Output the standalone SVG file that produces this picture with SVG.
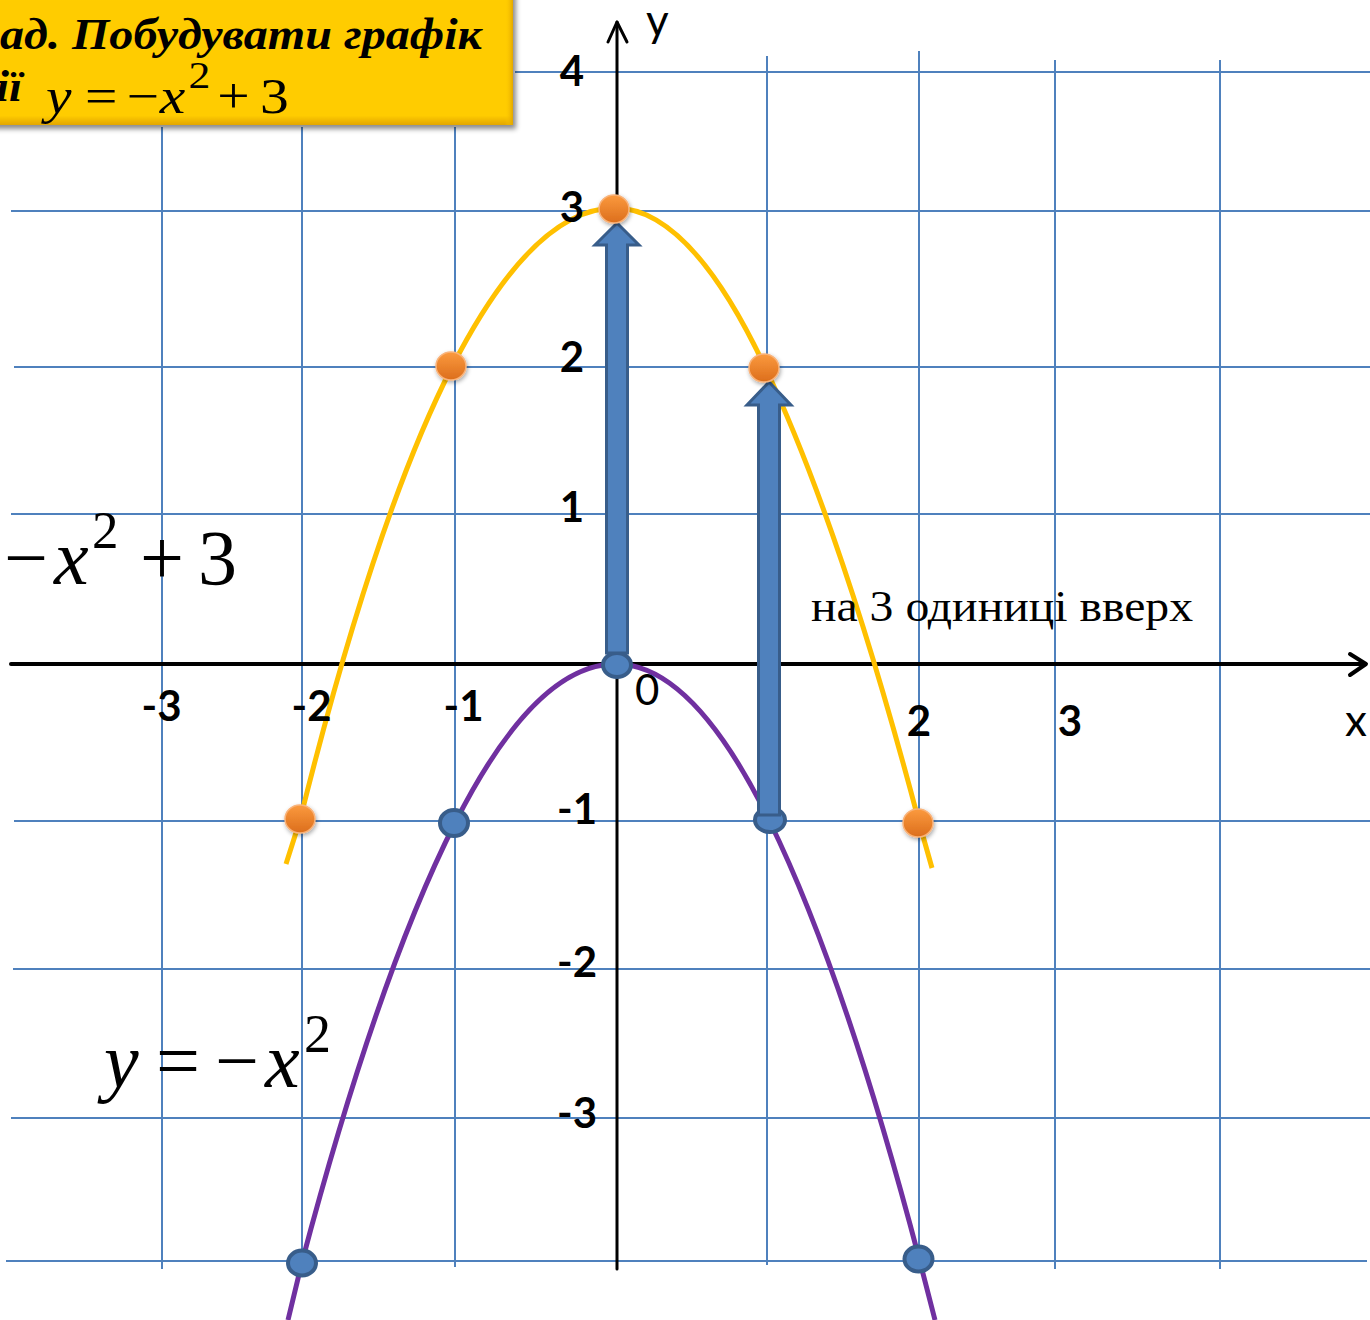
<svg xmlns="http://www.w3.org/2000/svg" width="1370" height="1320" viewBox="0 0 1370 1320">
<defs>
<style>
.grid{stroke:#4F81BD;stroke-width:2;fill:none}
.axis{stroke:#000;fill:none;stroke-linecap:round;stroke-linejoin:round}
.lbl{font-family:Lato,"Liberation Sans",sans-serif;font-weight:bold;font-size:42px;fill:#000}
.lblr{font-family:Lato,"Liberation Sans",sans-serif;fill:#000}
.math{font-family:"Liberation Serif","Times New Roman",serif;fill:#000}
.it{font-style:italic}
.title{font-family:"Liberation Serif","Times New Roman",serif;font-weight:bold;font-style:italic;font-size:44px;fill:#000}
.odot{fill:url(#og);stroke:#F9B37A;stroke-width:1.5;filter:url(#sh)}
.bdot{fill:#4F81BD;stroke:#385D8A;stroke-width:4}
.arrow{fill:#4F81BD;stroke:#385D8A;stroke-width:3;stroke-linejoin:miter}
.tail{fill:#4F81BD;stroke:#385D8A;stroke-width:4}
.curveO{fill:none;stroke:#FFC000;stroke-width:5}
.curveP{fill:none;stroke:#7030A0;stroke-width:5}
</style>
<linearGradient id="og" x1="0" y1="0" x2="0" y2="1"><stop offset="0" stop-color="#FB9A3E"/><stop offset="1" stop-color="#DC6E1C"/></linearGradient>
<linearGradient id="yg" x1="0" y1="0" x2="0" y2="1"><stop offset="0" stop-color="#FFE066"/><stop offset="0.08" stop-color="#FFCC00"/><stop offset="0.93" stop-color="#FFCC00"/><stop offset="1" stop-color="#E2A600"/></linearGradient>
<linearGradient id="yr" x1="0" y1="0" x2="1" y2="0"><stop offset="0" stop-color="#FFCC00" stop-opacity="0"/><stop offset="1" stop-color="#E2A600"/></linearGradient>
<filter id="sh" x="-50%" y="-50%" width="200%" height="200%"><feDropShadow dx="1" dy="2" stdDeviation="2" flood-color="#000" flood-opacity="0.35"/></filter>
<filter id="bsh" x="-10%" y="-20%" width="120%" height="140%"><feDropShadow dx="3" dy="4" stdDeviation="2.5" flood-color="#000" flood-opacity="0.45"/></filter>
</defs>

<g id="grid">
<line class="grid" x1="515" y1="72" x2="1370" y2="72"/>
<line class="grid" x1="11" y1="211" x2="1370" y2="211"/>
<line class="grid" x1="14" y1="367" x2="1370" y2="367"/>
<line class="grid" x1="11" y1="514" x2="1370" y2="514"/>
<line class="grid" x1="14" y1="821" x2="1370" y2="821"/>
<line class="grid" x1="13" y1="969" x2="1370" y2="969"/>
<line class="grid" x1="11" y1="1118" x2="1370" y2="1118"/>
<line class="grid" x1="6" y1="1261" x2="1367" y2="1261"/>
<line class="grid" x1="162" y1="127" x2="162" y2="1269"/>
<line class="grid" x1="302" y1="127" x2="302" y2="1266"/>
<line class="grid" x1="455" y1="127" x2="455" y2="1267"/>
<line class="grid" x1="767" y1="56" x2="767" y2="1265"/>
<line class="grid" x1="919" y1="51" x2="919" y2="1262"/>
<line class="grid" x1="1055" y1="60" x2="1055" y2="1269"/>
<line class="grid" x1="1220" y1="60" x2="1220" y2="1269"/>
</g>

<g id="title-box">
<rect x="-20" y="-10" width="533" height="135" fill="url(#yg)" filter="url(#bsh)"/>
<rect x="505" y="-10" width="8" height="135" fill="url(#yr)"/>
<text class="title" x="0" y="49" textLength="482" lengthAdjust="spacingAndGlyphs">ад. Побудувати графік</text>
<text class="title" x="-4" y="101" textLength="26" lengthAdjust="spacingAndGlyphs">ії</text>
<g transform="scale(1.15,1)">
<text class="math it" x="40" y="113" font-size="50">y</text>
<text class="math" x="74" y="113" font-size="50">=</text>
<text class="math" x="110" y="113" font-size="50">−</text>
<text class="math it" x="139" y="113" font-size="50">x</text>
<text class="math" x="164" y="88" font-size="38">2</text>
<text class="math" x="189" y="113" font-size="50">+</text>
<text class="math" x="226" y="113" font-size="50">3</text>
</g>
</g>

<g id="axes">
<line class="axis" x1="617" y1="1269" x2="617" y2="22" stroke-width="3"/>
<polyline class="axis" points="608,42 617,22 627,42" stroke-width="3"/>
<line class="axis" x1="11" y1="664" x2="1364" y2="664" stroke-width="4"/>
<polyline class="axis" points="1350,654 1366,664 1350,675" stroke-width="4"/>
</g>

<g id="connectors">
<path id="curve-shifted" class="curveO" d="M286,864 L300,820 Q376,515 452,367 Q533.5,208 615,208 Q690,208 765,367 Q842,530 919,822 L932,868"/>
<path id="curve-base" class="curveP" d="M288,1320 L302,1262 Q378.5,974 455,823 Q535.5,664 616,664 Q692.5,664 769,820 Q844,973 919,1258 L935,1320"/>
</g>

<g id="arrow-1">
<ellipse class="tail" cx="617" cy="665" rx="14" ry="12"/>
<polygon class="arrow" points="606.5,653 606.5,245 595,245 617,223 639,245 627.5,245 627.5,653"/>
</g>
<g id="arrow-2">
<ellipse class="tail" cx="770" cy="820" rx="15" ry="12"/>
<polygon class="arrow" points="758.5,815 758.5,405 747,405 769,382 791,405 779.5,405 779.5,815"/>
</g>

<g id="points-shifted">
<ellipse class="odot" cx="614" cy="209" rx="15" ry="14"/>
<ellipse class="odot" cx="451" cy="366" rx="15" ry="14"/>
<ellipse class="odot" cx="764" cy="368" rx="15" ry="14"/>
<ellipse class="odot" cx="300" cy="819" rx="15" ry="14"/>
<ellipse class="odot" cx="918" cy="823" rx="15" ry="14"/>
</g>
<g id="points-base">
<ellipse class="bdot" cx="454" cy="823" rx="14" ry="13"/>
<ellipse class="bdot" cx="302" cy="1263" rx="14" ry="12.5"/>
<ellipse class="bdot" cx="918.5" cy="1259" rx="14" ry="12.5"/>
</g>

<g id="axis-labels">
<text class="lbl" x="584" y="86" text-anchor="end">4</text>
<text class="lbl" x="584" y="222" text-anchor="end">3</text>
<text class="lbl" x="584" y="372" text-anchor="end">2</text>
<text class="lbl" x="584" y="522" text-anchor="end">1</text>
<text class="lbl" x="597" y="824" text-anchor="end">-1</text>
<text class="lbl" x="597" y="977" text-anchor="end">-2</text>
<text class="lbl" x="597" y="1128" text-anchor="end">-3</text>
<text class="lbl" x="161.5" y="721" text-anchor="middle">-3</text>
<text class="lbl" x="311.5" y="721" text-anchor="middle">-2</text>
<text class="lbl" x="463.5" y="721" text-anchor="middle">-1</text>
<text class="lbl" x="919" y="736" text-anchor="middle">2</text>
<text class="lbl" x="1070" y="736" text-anchor="middle">3</text>
<text class="lblr" x="635" y="705" font-size="42">0</text>
<text class="lblr" x="646" y="36" font-size="44">y</text>
<text class="lblr" x="1345" y="736" font-size="44">x</text>
</g>

<g id="label-shift">
<text class="math" x="811" y="621" font-size="44" textLength="382" lengthAdjust="spacingAndGlyphs">на 3 одиниці вверх</text>
</g>

<g id="formula-shifted">
<text class="math" x="4" y="584" font-size="78">−</text>
<text class="math it" x="54" y="584" font-size="78">x</text>
<text class="math" x="92" y="548" font-size="53">2</text>
<text class="math" x="140" y="584" font-size="78">+</text>
<text class="math" x="198" y="584" font-size="78">3</text>
</g>

<g id="formula-base">
<text class="math it" x="104" y="1087" font-size="78">y</text>
<text class="math" x="156" y="1087" font-size="78">=</text>
<text class="math" x="215" y="1087" font-size="78">−</text>
<text class="math it" x="265" y="1087" font-size="78">x</text>
<text class="math" x="304" y="1052" font-size="54">2</text>
</g>
</svg>
